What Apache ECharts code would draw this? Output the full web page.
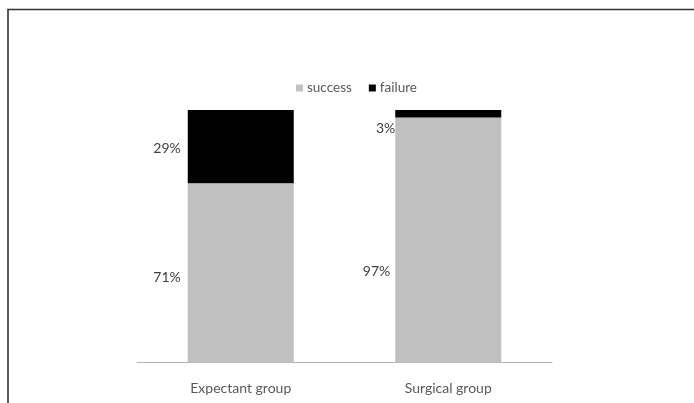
<!DOCTYPE html>
<html>
<head>
<meta charset="utf-8">
<script src="https://cdn.jsdelivr.net/npm/echarts@6/dist/echarts.min.js"></script>
<style>html,body{margin:0;padding:0;background:#fff;}#c{width:694px;height:403px;}</style>
</head>
<body>
<div id="c"></div>
<script>
const categories = ['Expectant group', 'Surgical group'];
const successValues = [71, 97];
const failureValues = [29, 3];
const seriesNames = ['success', 'failure'];

const font = 'Lato, "Liberation Sans", sans-serif';
const chart = echarts.init(document.getElementById('c'));
const successOffsets = [[-2, 4], [0, 31]];
const failureOffsets = [[-2, 1.5], [5, 15]];

chart.setOption({
  animation: false,
  graphic: [{
    type: 'rect',
    shape: { x: 8, y: 9.5, width: 800, height: 500 },
    style: { fill: null, stroke: '#333', lineWidth: 1.6 },
    silent: true
  }],
  legend: {
    data: seriesNames,
    left: 291,
    top: 76,
    itemWidth: 7,
    itemHeight: 7,
    itemGap: 17,
    icon: 'rect',
    textStyle: { fontFamily: font, fontSize: 13.5, color: '#595959', padding: [0, 0, 0, -1] }
  },
  grid: { left: 137, right: 142, top: 110, bottom: 40.3 },
  xAxis: {
    type: 'category',
    data: categories,
    axisLine: { lineStyle: { color: '#b3b3b3', width: 1 } },
    axisTick: { show: false },
    axisLabel: { fontFamily: font, fontSize: 14, color: '#595959', margin: 19 }
  },
  yAxis: {
    type: 'value',
    min: 0, max: 100,
    show: false
  },
  series: [
    {
      name: seriesNames[0], type: 'bar', stack: 'a', barWidth: 106,
      itemStyle: { color: '#c0c0c0' },
      data: successValues.map((v, i) => ({
        value: v,
        label: { show: true, position: 'left', distance: 5, offset: successOffsets[i],
          formatter: v + '%', fontFamily: font, fontSize: 14, color: '#404040' }
      }))
    },
    {
      name: seriesNames[1], type: 'bar', stack: 'a', barWidth: 106,
      itemStyle: { color: '#000000' },
      data: failureValues.map((v, i) => ({
        value: v,
        label: { show: true, position: 'left', distance: 5, offset: failureOffsets[i],
          formatter: v + '%', fontFamily: font, fontSize: 14, color: '#404040' }
      }))
    }
  ]
});
</script>
</body>
</html>
